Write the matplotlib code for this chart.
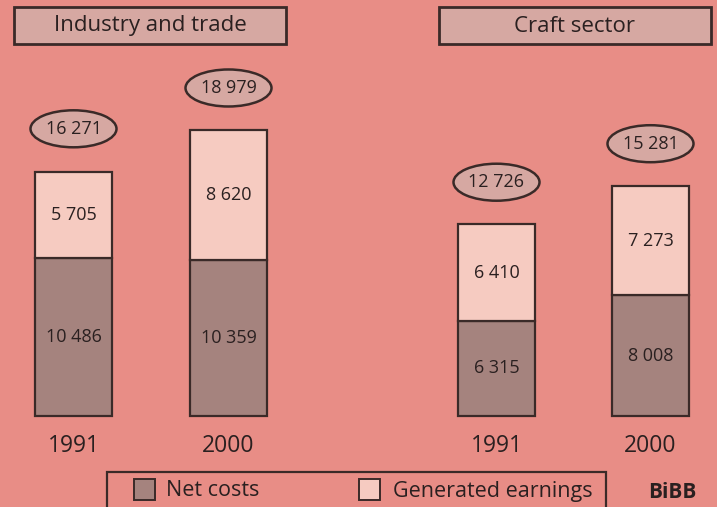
import matplotlib.pyplot as plt
from matplotlib.patches import Ellipse, Rectangle

# data ---------------------------------------------
sectors = ["Industry and trade", "Craft sector"]
years = ["1991", "2000", "1991", "2000"]
net_costs = [10486, 10359, 6315, 8008]
earnings = [5705, 8620, 6410, 7273]
totals = [16271, 18979, 12726, 15281]

# styling ------------------------------------------
bg = "#e88d86"
c_net = "#a5837e"
c_earn = "#f6cbc1"
c_box = "#d6a8a2"
edge = "#3a2a28"
txt = "#2a2020"
plt.rcParams['font.family'] = ['Open Sans', 'DejaVu Sans']

fig = plt.figure(figsize=(7.17, 5.07), dpi=100)
fig.patch.set_facecolor(bg)

# bars axis: x in pixels, y in values
px_per_unit = 15.07 / 1000
base_px = 416
ax = fig.add_axes([0, 0, 1, 1])
ax.set_xlim(0, 717)
ax.set_ylim(-(507 - base_px) / px_per_unit, base_px / px_per_unit)
ax.axis("off")

xs = [73.5, 228.5, 496.5, 650.5]
w = 77
ell_h = 37 / px_per_unit
ax.bar(xs, net_costs, width=w, color=c_net, edgecolor=edge, linewidth=1.6, zorder=2)
ax.bar(xs, earnings, width=w, bottom=net_costs, color=c_earn, edgecolor=edge,
       linewidth=1.6, zorder=2)

for x, n, e, t, yr in zip(xs, net_costs, earnings, totals, years):
    ax.text(x, n / 2, f"{n:,}".replace(",", " "), ha="center", va="center",
            fontsize=13, color=txt, zorder=3)
    ax.text(x, n + e / 2, f"{e:,}".replace(",", " "), ha="center", va="center",
            fontsize=13, color=txt, zorder=3)
    ey = t + 42 / px_per_unit
    ax.add_patch(Ellipse((x, ey), 86, ell_h, facecolor=c_box, edgecolor=edge,
                         linewidth=1.8, zorder=3))
    ax.text(x, ey, f"{t:,}".replace(",", " "), ha="center", va="center",
            fontsize=13, color=txt, zorder=4)
    ax.text(x, -30 / px_per_unit, yr, ha="center", va="center", fontsize=16.5,
            color=txt)

# overlay in pixel coordinates for titles and legend
lay = fig.add_axes([0, 0, 1, 1])
lay.set_xlim(0, 717)
lay.set_ylim(507, 0)
lay.axis("off")
lay.patch.set_alpha(0)

for (x0, x1), name in zip([(14, 286), (439, 711)], sectors):
    lay.add_patch(Rectangle((x0, 7), x1 - x0, 37, facecolor=c_box, edgecolor=edge,
                            linewidth=2))
    lay.text((x0 + x1) / 2, 26, name, ha="center", va="center", fontsize=16,
             color=txt)

lay.add_patch(Rectangle((107, 472), 499, 40, facecolor=bg, edgecolor=edge,
                        linewidth=1.6, clip_on=False))
lay.add_patch(Rectangle((134, 479), 21, 21, facecolor=c_net, edgecolor=edge,
                        linewidth=1.4))
lay.text(166, 491, "Net costs", ha="left", va="center", fontsize=15.5, color=txt)
lay.add_patch(Rectangle((359, 479), 21, 21, facecolor=c_earn, edgecolor=edge,
                        linewidth=1.4))
lay.text(393, 491, "Generated earnings", ha="left", va="center", fontsize=15.5,
         color=txt)
lay.text(672, 493, "BiBB", ha="center", va="center", fontsize=15,
         fontweight="bold", color=txt)

fig.savefig("out.png", dpi=100, facecolor=bg)
